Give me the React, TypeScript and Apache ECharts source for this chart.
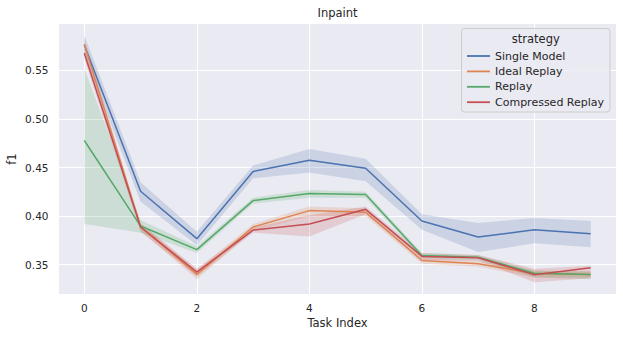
import React, { useEffect, useRef } from "react";
import * as echarts from "echarts";

const taskIndex = [0, 1, 2, 3, 4, 5, 6, 7, 8, 9];
const xTickValues = [0, 2, 4, 6, 8];
const yTickValues = [0.35, 0.4, 0.45, 0.5, 0.55];
const strategies = ["Single Model", "Ideal Replay", "Replay", "Compressed Replay"];

const singleModelMean = [0.576, 0.4256, 0.3768, 0.4459, 0.4575, 0.4493, 0.395, 0.3785, 0.386, 0.382];
const singleModelLow = [0.566, 0.415, 0.37, 0.439, 0.445, 0.436, 0.386, 0.363, 0.372, 0.368];
const singleModelHigh = [0.586, 0.435, 0.384, 0.452, 0.469, 0.459, 0.402, 0.393, 0.398, 0.395];

const idealReplayMean = [0.577, 0.3888, 0.34, 0.3888, 0.4057, 0.404, 0.3544, 0.351, 0.341, 0.34];
const idealReplayLow = [0.571, 0.385, 0.335, 0.385, 0.4, 0.4, 0.351, 0.348, 0.337, 0.337];
const idealReplayHigh = [0.583, 0.393, 0.345, 0.392, 0.41, 0.408, 0.357, 0.354, 0.344, 0.343];

const replayMean = [0.4778, 0.3898, 0.3655, 0.416, 0.4232, 0.4222, 0.3596, 0.3578, 0.3413, 0.34];
const replayLow = [0.392, 0.383, 0.362, 0.413, 0.419, 0.419, 0.357, 0.355, 0.337, 0.335];
const replayHigh = [0.552, 0.396, 0.369, 0.419, 0.427, 0.425, 0.362, 0.36, 0.344, 0.343];

const compressedReplayMean = [0.5675, 0.3888, 0.3424, 0.3857, 0.3919, 0.407, 0.3586, 0.3572, 0.3397, 0.3469];
const compressedReplayLow = [0.562, 0.384, 0.338, 0.383, 0.379, 0.402, 0.355, 0.354, 0.332, 0.336];
const compressedReplayHigh = [0.574, 0.392, 0.346, 0.388, 0.401, 0.41, 0.362, 0.36, 0.346, 0.349];

const colors = ["#4C72B0", "#DD8452", "#55A868", "#C44E52"];

const FONT = "DejaVu Sans";
const TEXT = "#262626";

export default function App() {
  const ref = useRef<HTMLDivElement>(null);

  useEffect(() => {
    if (!ref.current) return;
    const chart = echarts.init(ref.current, null, { renderer: "svg" });

    const means = [singleModelMean, idealReplayMean, replayMean, compressedReplayMean];
    const lows = [singleModelLow, idealReplayLow, replayLow, compressedReplayLow];
    const highs = [singleModelHigh, idealReplayHigh, replayHigh, compressedReplayHigh];

    const series: any[] = [];
    strategies.forEach((name, s) => {
      const color = colors[s];
      series.push({
        type: "line",
        name,
        color,
        data: taskIndex.map((x, i) => [x, means[s][i]]),
        showSymbol: false,
        symbol: "none",
        lineStyle: { width: 1.5, color },
        itemStyle: { color },
        z: 2,
      });
      const lo = lows[s];
      const hi = highs[s];
      series.push({
        type: "custom",
        name: name + " band",
        silent: true,
        data: taskIndex.map((x, i) => [x, lo[i], hi[i]]),
        encode: { x: 0, y: [1, 2] },
        z: 2,
        renderItem: (params: any, api: any) => {
          if (params.dataIndex !== 0) return null;
          const pts: number[][] = [];
          taskIndex.forEach((x, i) => pts.push(api.coord([x, hi[i]])));
          for (let i = taskIndex.length - 1; i >= 0; i--) pts.push(api.coord([taskIndex[i], lo[i]]));
          return {
            type: "polygon",
            shape: { points: pts },
            style: { fill: color, opacity: 0.2, stroke: "none" },
          };
        },
      });
    });

    chart.setOption({
      animation: false,
      textStyle: { fontFamily: FONT },
      grid: {
        left: 59,
        right: 7,
        top: 24,
        bottom: 44,
        show: true,
        backgroundColor: "#EAEAF2",
        borderWidth: 0,
        containLabel: false,
        outerBoundsMode: "none",
      },
      xAxis: {
        type: "value",
        min: -0.45,
        max: 9.45,
        name: "Task Index",
        nameLocation: "middle",
        nameGap: 23,
        nameMoveOverlap: false,
        nameTextStyle: { fontSize: 11.5, color: TEXT, fontFamily: FONT },
        axisLine: { show: false },
        axisTick: { show: false, customValues: xTickValues },
        axisLabel: {
          customValues: xTickValues,
          fontSize: 10.5,
          color: TEXT,
          fontFamily: FONT,
          margin: 8.5,
        },
        splitLine: { show: true, lineStyle: { color: "#ffffff", width: 1 } },
      },
      yAxis: {
        type: "value",
        min: 0.3199,
        max: 0.5977,
        name: "f1",
        nameLocation: "middle",
        nameGap: 41,
        nameMoveOverlap: false,
        nameTextStyle: { fontSize: 11.5, color: TEXT, fontFamily: FONT },
        axisLine: { show: false },
        axisTick: { show: false, customValues: yTickValues },
        axisLabel: {
          customValues: yTickValues,
          fontSize: 10.5,
          color: TEXT,
          fontFamily: FONT,
          margin: 10.5,
          formatter: (v: number) => v.toFixed(2),
        },
        splitLine: { show: true, lineStyle: { color: "#ffffff", width: 1 } },
      },
      legend: {
        data: strategies,
        orient: "vertical",
        left: 467,
        top: 48.3,
        padding: 0,
        itemGap: 0,
        itemWidth: 23,
        itemHeight: 1.8,
        icon: "rect",
        selectedMode: false,
        textStyle: { fontSize: 11, color: TEXT, fontFamily: FONT, lineHeight: 15.4 },
        z: 5,
      },
      graphic: [
        {
          type: "text",
          x: 337.5,
          y: 13,
          style: {
            text: "Inpaint",
            fontSize: 11.5,
            fontFamily: FONT,
            fill: TEXT,
            textAlign: "center",
            textVerticalAlign: "middle",
          },
        },
        {
          type: "rect",
          z: 4,
          shape: { x: 461.5, y: 28.5, width: 148.5, height: 83.5, r: 3 },
          style: { fill: "rgba(234,234,242,0.8)", stroke: "#cccccc", lineWidth: 1 },
        },
        {
          type: "text",
          z: 5,
          x: 535.8,
          y: 39,
          style: {
            text: "strategy",
            fontSize: 11.5,
            fontFamily: FONT,
            fill: TEXT,
            textAlign: "center",
            textVerticalAlign: "middle",
          },
        },
      ],
      series,
    });

    return () => chart.dispose();
  }, []);

  return (
    <div
      ref={ref}
      style={{ position: "fixed", left: 0, top: 0, width: 623, height: 338, background: "#ffffff" }}
    />
  );
}
